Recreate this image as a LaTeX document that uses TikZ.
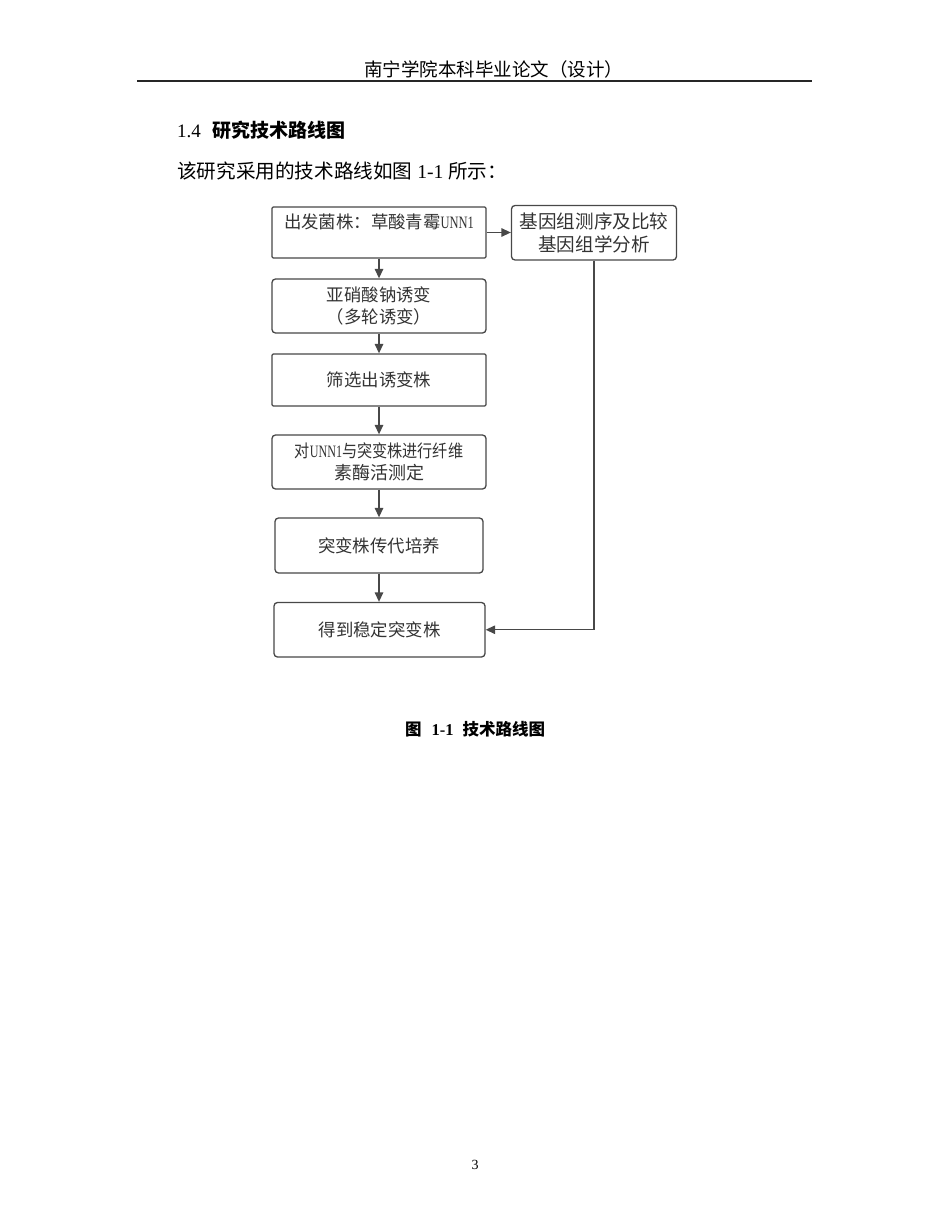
\documentclass[tikz,border=0pt]{standalone}
\usepackage{fontspec}
\setmainfont{Liberation Serif}
\newfontfamily\cjk{Noto Sans CJK SC}
\usetikzlibrary{arrows.meta}
\definecolor{linegray}{HTML}{484848}
\definecolor{textgray}{HTML}{333333}
\newcommand{\unn}[1]{\scalebox{#1}[1]{\rmfamily UNN1}}
\begin{document}
\begin{tikzpicture}[x=1pt,y=-1pt,
  box/.style={draw=linegray, line width=1.3pt, rounded corners=3.5pt, inner sep=0pt,
    align=center, text=textgray, font=\cjk\fontsize{17.4}{22.5}\selectfont},
  sqbox/.style={box, rounded corners=1.2pt},
  arr/.style={draw=linegray, line width=1.3pt, -{Triangle[length=9.5pt,width=8.5pt]}},
  plain/.style={inner sep=0pt, anchor=west}]
\fill[white] (0,0) rectangle (950,1230);
\useasboundingbox (0,0) rectangle (950,1230);

% header
\node[plain, font=\cjk\fontsize{18.5}{20}\selectfont] (hd) at (364,69) {南宁学院本科毕业论文（设计）};
\coordinate (rl) at (137,81);
\coordinate (rr) at (812,81);
\draw[line width=1.6pt, black!85] (rl) -- (rr);

% heading and paragraph
\node[plain, font=\fontsize{19}{21}\selectfont] (hdg) at (177,130) {1.4\hspace{12pt}{\cjk\bfseries 研究技术路线图}};
\node[plain, font=\fontsize{19.6}{21}\selectfont] (par) at (177,171) {{\cjk 该研究采用的技术路线如图} 1-1 {\cjk 所示：}};

% flowchart
\node[sqbox, minimum width=214pt, minimum height=51pt] (b1) at (379,232.5) {出发菌株：草酸青霉\unn{0.72}\\\mbox{}};
\node[box, font=\cjk\fontsize{18.6}{23}\selectfont, minimum width=165pt, minimum height=54.5pt] (r) at (594,232.75) {基因组测序及比较\\基因组学分析};
\node[box, minimum width=214pt, minimum height=54pt] (b2) at (379,306) {亚硝酸钠诱变\\（多轮诱变）};
\node[sqbox, minimum width=214pt, minimum height=52pt] (b3) at (379,380) {筛选出诱变株};
\node[box, minimum width=214pt, minimum height=54pt] (b4) at (379,462) {\scalebox{0.87}[1]{对\unn{0.8}与突变株进行纤维}\\{\fontsize{18}{22.5}\selectfont 素酶活测定}};
\node[box, minimum width=208pt, minimum height=55pt] (b5) at (379,545.5) {突变株传代培养};
\node[box, minimum width=211pt, minimum height=54.5pt] (b6) at (379.5,629.75) {得到稳定突变株};

\draw[arr] (b1.south) -- (b2.north);
\draw[arr] (b2.south) -- (b3.north);
\draw[arr] (b3.south) -- (b4.north);
\draw[arr] (b4.south) -- (b5.north);
\draw[arr] (b5.south) -- (b5.south |- b6.north);
\draw[arr] (b1.east) -- (b1.east -| r.west);
\draw[arr] (r.south) |- (b6.east);

% caption and page number
\node[plain, font=\fontsize{16.5}{18}\selectfont\bfseries] (cap) at (405,729) {{\cjk 图}\hspace{10pt}1-1\hspace{9pt}{\cjk 技术路线图}};
\node[inner sep=0pt, font=\fontsize{14}{16}\selectfont] (pg) at (475,1165) {3};
\end{tikzpicture}
\end{document}
